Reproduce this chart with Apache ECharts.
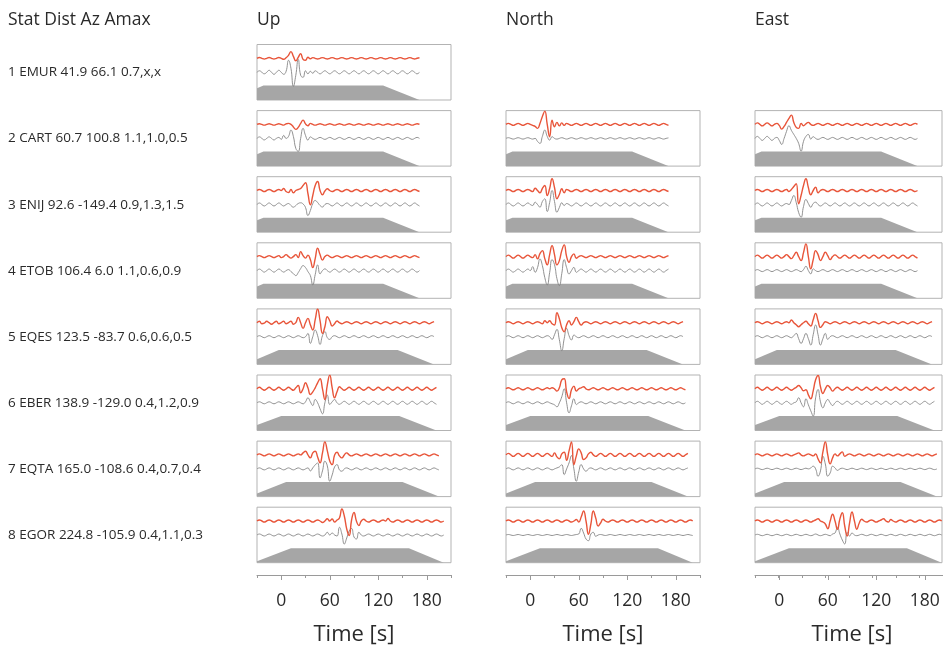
<!DOCTYPE html>
<html><head><meta charset="utf-8">
<script src="https://cdn.jsdelivr.net/npm/echarts@6/dist/echarts.min.js"></script>
<style>html,body{margin:0;padding:0;background:#fff}#c{width:943px;height:649px}</style>
</head><body><div id="c"></div><script>
// ---------- DATA ----------
const T0 = -30, DT = 3;               // trace sample start time and step (s)
const columns = ['Up', 'North', 'East'];
const header = 'Stat Dist Az Amax';
const stations = [
  '1 EMUR 41.9 66.1 0.7,x,x',
  '2 CART 60.7 100.8 1.1,1.0,0.5',
  '3 ENIJ 92.6 -149.4 0.9,1.3,1.5',
  '4 ETOB 106.4 6.0 1.1,0.6,0.9',
  '5 EQES 123.5 -83.7 0.6,0.6,0.5',
  '6 EBER 138.9 -129.0 0.4,1.2,0.9',
  '7 EQTA 165.0 -108.6 0.4,0.7,0.4',
  '8 EGOR 224.8 -105.9 0.4,1.1,0.3'
];
// taper window per station: [start, plateau start, plateau end, end] (s)
const taper = [
  [-66, -22, 126, 171], [-66, -22, 126, 171], [-66, -22, 126, 171], [-66, -22, 126, 171],
  [-45, -3, 144, 189], [-48, 0, 146, 192], [-40, 6, 150, 195], [-35, 12, 158, 201]
];
const timeTicks = [0, 60, 120, 180];
const axisTitle = 'Time [s]';

// waveforms (amplitude, one value every 3 s from -30 s); red = synthetic, gray = observed
const upRed1 = [0,0.8,0,-0.8,0,0.8,0,-0.8,0,0.8, 0,-1,0.5,3,6.7,2,-2.5,1,4.5,-1, -2,1,-0.5,0.7,0,-0.7,0,0.7,0,-0.7, 0,0.7,0,-0.7,0,0.7,0,-0.7,0,0.7, 0,-0.7,0,0.7,0,-0.7,0,0.7,0,-0.7, 0,0.7,0,-0.7,0,0.7,0,-0.7,0,0.7, 0,-0.7,0,0.7,0,-0.7,0,0.5];
const upGray1 = [0,1.5,0,-1.5,0,2,0,-2,0,2, 0,-2,1,12,4,-14,-3,13,-3,-5, 1.5,-1.5,1,-1,1.5,0,-1.5,0,1.5,0, -1.5,0,1.5,0,-1.5,0,1.5,0,-1.5,0, 1.5,0,-1.5,0,1.5,0,-1.5,0,1.5,0, -1.5,0,1.5,0,-1.5,0,1.5,0,-1.5,0, 1.5,0,-1.5,0,1.5,0,-1.5,0];
const upRed2 = [0,0.7,0,-0.7,0,0.7,0,-0.7,0,0.7, 0,-0.7,0.5,1,0,-2.5,-5,-3,1,4.3, 0.5,-1.3,1,0,-0.7,0,0.7,0,-0.7,0, 0.7,0,-0.7,0,0.7,0,-0.7,0,0.7,0, -0.7,0,0.7,0,-0.7,0,0.7,0,-0.7,0, 0.7,0,-0.7,0,0.7,0,-0.7,0,0.7,0, -0.7,0,0.7,0,-0.7,0,0.7,0];
const upGray2 = [0,1.5,0,-1.5,0,1.5,0,-1.5,0,1, -1,3,0,2,8.3,2,-10,-13,0,10, 3,-1.7,1.5,0,-1,0,1,0,-1,0, 1,0,-1,0,1,0,-1,0,1,0, -1,0,1,0,-1,0,1,0,-1,0, 1,0,-1,0,1,0,-1,0,1,0, -1,0,1,0,-1,0,1,0];
const upRed3 = [0,1,0,-1,0,1,0,-1,0,1, 0,2,-1,-2,1,-2.3,0,1,2,5, 7.7,-3,-14.3,-5,5,9,0,-4.3,-0.5,1.7, 0,-1,0,1,0,-1,0,1,0,-1, 0,1,0,-1,0,1,0,-1,0,1, 0,-1,0,1,0,-1,0,1,0,-1, 0,1,0,-1,0,1,0,-1];
const upGray3 = [0,1.5,0,-1.5,0,1.5,0,-1.5,0,1.5, 0,-1.5,0,1,-1,-2.7,-1,1,1.7,0.5, -3,-11,-6,1,4,2,-1,-2.5,0,1, 0,-1.5,0,1.5,0,-1.5,0,1.5,0,-1.5, 0,1.5,0,-1.5,0,1.5,0,-1.5,0,1.5, 0,-1.5,0,1.5,0,-1.5,0,1.5,0,-1.5, 0,1.5,0,-1.5,0,1.5,0,-1.5];
const upRed4 = [0,1,0,-1,0,1,0,-1,0,1, -1,0,2,0,-1.5,0,2,-1,5,1, -1.5,1.5,-3,-11,-2,8.5,2,-3.5,0,1.5, 0,-1,0,1,0,-1,0,1,0,-1, 0,1,0,-1,0,1,0,-1,0,1, 0,-1,0,1,0,-1,0,1,0,-1, 0,1,0,-1,0,1,0,-1];
const upGray4 = [0,1.5,0,-1.5,0,1.5,0,-1.5,0,1.5, 0,-1.5,0,1,-1,-3,-5,-2,2,5, 3,-1,-5,-14.3,-4,5.7,-3.3,0,1.7,0, -1.5,0,1.5,0,-1.5,0,1.5,0,-1.5,0, 1.5,0,-1.5,0,1.5,0,-1.5,0,1.5,0, -1.5,0,1.5,0,-1.5,0,1.5,0,-1.5,0, 1.5,0,-1.5,0,1.5,0,-1.5,0];
const upRed5 = [0,1.5,-1,-0.5,1.5,0,-1.5,0,1.5,-1, 0,1.5,-1,0,1.5,-1.5,0,5.3,0,-5.7, 0,4.3,-2,-7.3,3,13.7,2,-10.7,-4,6, 2,-3.3,-1,1.7,0,-1,0,1,0,-1, 0,1,0,-1,0,1,0,-1,0,1, 0,-1,0,1,0,-1,0,1,0,-1, 0,1,0,-1,0,1,0,-1,0,1, 0,-1,0,1];
const upGray5 = [0,1,0,-1,0,1,0,-1,0,1, 0,-1,0,1,0,-1,0,1,0,-1, 0,3.3,-6.7,0,6.7,1,-7.7,1,5,-1, -2.7,0,1,0,-1,0,1,0,-1,0, 1,0,-1,0,1,0,-1,0,1,0, -1,0,1,0,-1,0,1,0,-1,0, 1,0,-1,0,1,0,-1,0,1,0, -1,0,1,0];
const upRed6 = [0,1.5,0,-1.5,0,1.5,0,-1.5,0,1.5, 0,-1.5,0,1.5,0,-1.5,1,3.3,-4,0, 6,1,-5.7,-3,1,6,10,0,-10.7,4, 13.7,1,-9,-3,2,0,-1.5,0,1.5,0, -1.5,0,1.5,0,-1.5,0,1.5,0,-1.5,0, 1.5,0,-1.5,0,1.5,0,-1.5,0,1.5,0, -1.5,0,1.5,0,-1.5,0,1.5,0,-1.5,0, 1.5,0,-1.5,0,1.5];
const upGray6 = [0,1,0,-1,0,1,0,-1,0,1, 0,-1,0,1,0,-1,0,1,0,-1, 1,5,1,-2.7,3.3,0,-6,-11,0,7.7, -1.7,1,3.3,0,-1.5,0,1.5,0,-1.5,0, 1.5,0,-1.5,0,1.5,0,-1.5,0,1.5,0, -1.5,0,1.5,0,-1.5,0,1.5,0,-1.5,0, 1.5,0,-1.5,0,1.5,0,-1.5,0,1.5,0, -1.5,0,1.5,0,-1.5];
const upRed7 = [0,1,0,-1,0,1,0,-1,0,1, 0,-1,0,1,0,-1,0,1,0,2, 3.7,0,-3,2,3.7,-2,-8,2,13,4, -6,-9.7,0,2.7,-1,-3,0,2,0,-1, 0,1,0,-1,0,1,0,-1,0,1, 0,-1,0,1,0,-1,0,1,0,-1, 0,1,0,-1,0,1,0,-1,0,1, 0,-1,0,1,0,-1];
const upGray7 = [0,1,0,-1,0,1,0,-1,0,1, 0,-1,0,1,0,-1,0,1,0,-1, 0,1,-2,1,4,6,-9,-2,7.7,3, -12.3,-6,2,4.3,-1,-2.3,0,1,0,-1, 0,1,0,-1,0,1,0,-1,0,1, 0,-1,0,1,0,-1,0,1,0,-1, 0,1,0,-1,0,1,0,-1,0,1, 0,-1,0,1,0,-1];
const upRed8 = [0,1,0,-1,0,1,0,-1,0,1, 0,-1,0,1,0,-1,0,1,0,-1, 0,1,0,-1,0,1,0,-1.5,0,2.3, 0,2,-1,1,3,12,5,-8,-14.5,1, 8.5,0,-4.5,0,1.7,0,-1,0,1,0, -1,0,1,0,2.5,0,-1,0,1,0, -1,0,1,0,-1,0,1,0,-1,0, 1,0,-1,0,1,0,-1,0];
const upGray8 = [0,1,0,-1,0,1,0,-1,0,1, 0,-1,0,1,0,-1,0,1,0,-1, 0,1,0,-1,0,1,0,-1,0,2.7, 0,2,0,-1,7.7,1,-9,-3,4,6.5, -2,-4,2.7,0,-1,0,1,0,-1,0, 1,0,-1,0,1,0,-1,0,1,0, -1,0,1,0,-1,0,1,0,-1,0, 1,0,-1,0,1,0,-1,0];

const northRed2 = [0,1,0,-1,0,1,0,-1,0,1, 0,-1,-2,-4,1,8,13.3,0,-12.3,4.3, -2.3,2,-1.5,1.5,-1,1,0,-1,0,1, 0,-1,0,1,0,-1,0,1,0,-1, 0,1,0,-1,0,1,0,-1,0,1, 0,-1,0,1,0,-1,0,1,0,-1, 0,1,0,-1,0,1,0,-1];
const northGray2 = [0,0.7,0,-0.7,0,0.7,0,-0.7,0,0.7, 0,-0.7,0,-3,-5,2,8.3,2,-1.7,1.7, 0,-0.7,0,0.7,0,-0.7,0,0.7,0,-0.7, 0,0.7,0,-0.7,0,0.7,0,-0.7,0,0.7, 0,-0.7,0,0.7,0,-0.7,0,0.7,0,-0.7, 0,0.7,0,-0.7,0,0.7,0,-0.7,0,0.7, 0,-0.7,0,0.7,0,-0.7,0,0.5];
const northRed3 = [0,1,0,-1,0,1,0,-1,0,1, 0,-1,2.3,0,-2.3,2,5,-5,2,11.7, 3,-8.3,-4,1.7,-2.3,1,0,-1,0,1, 0,-1,0,1,0,-1,0,1,0,-1, 0,1,0,-1,0,1,0,-1,0,1, 0,-1,0,1,0,-1,0,1,0,-1, 0,1,0,-1,0,1,0,-1];
const northGray3 = [0,1.5,0,-1.5,0,1.5,0,-1.5,0,1.5, 0,-1,2.3,0,-2.7,3,5.7,-7,2,14, 3,-7.7,-3,1.7,-1,1,0,-1.5,0,1.5, 0,-1.5,0,1.5,0,-1.5,0,1.5,0,-1.5, 0,1.5,0,-1.5,0,1.5,0,-1.5,0,1.5, 0,-1.5,0,1.5,0,-1.5,0,1.5,0,-1.5, 0,1.5,0,-1.5,0,1.5,0,-1.5];
const northRed4 = [0,1.5,0,-1.5,0,1.5,0,-1.5,0,1.5, 0,-1,2,-2.3,3,6,-2,-8.3,2,11, 2,-8.3,-4,6,11.7,0,-5.7,0,2.7,-1.7, 0,1,0,-1,0,1,0,-1,0,1, 0,-1,0,1,0,-1,0,1,0,-1, 0,1,0,-1,0,1,0,-1,0,1, 0,-1,0,1,0,-1,0,1];
const northGray4 = [0,1.5,0,-1.5,0,1.5,0,-1.5,0,1.5, 0,4,-1.7,3,11.7,5,-7,-14.3,-2,11, 6,-8,-15,-3,11,3,-3.3,0,3.3,-1.7, 0,1.5,0,-1.5,0,1.5,0,-1.5,0,1.5, 0,-1.5,0,1.5,0,-1.5,0,1.5,0,-1.5, 0,1.5,0,-1.5,0,1.5,0,-1.5,0,1.5, 0,-1.5,0,1.5,0,-1.5,0,1.5];
const northRed5 = [0,1,0,-1,0,1,0,-1,0,1, 0,-1,0,1,0,-1,2,0,2,-1, -2.3,10,4,-5,-9,-2,2,-2.3,1,5.3, 1,-2.3,0,1,0,-1,0,1,0,-1, 0,1,0,-1,0,1,0,-1,0,1, 0,-1,0,1,0,-1,0,1,0,-1, 0,1,0,-1,0,1,0,-1,0,1, 0,-1,0,1];
const northGray5 = [0,1,0,-1,0,1,0,-1,0,1, 0,-1,0,1,0,-1,0,1,0,-2.7, 2,7.3,-3,-14,-2,8.3,1,-3.3,1.7,0, -1,0,1,0,-1,0,1,0,-1,0, 1,0,-1,0,1,0,-1,0,1,0, -1,0,1,0,-1,0,1,0,-1,0, 1,0,-1,0,1,0,-1,0,1,0, -1,0,1,0];
const northRed6 = [0,1,0,-1,0,1,0,-1,0,1, 0,-1,0,1,0,-1,0,1,0,1, 0,-2.3,1,9,10,-3,-9.7,-1,2.7,-2.3, 0,1,2,0,-1,0,1,0,-1,0, 1,0,-1,0,1,0,-1,0,1,0, -1,0,1,0,-1,0,1,0,-1,0, 1,0,-1,0,1,0,-1,0,1,0, -1,0,1,0,-1];
const northGray6 = [0,1,0,-1,0,1,0,-1,0,1, 0,-1,0,1,0,-1,0,1,0,-1, -2,-4,0,6,14,0,-10,-3,4,-1.7, 0,1,0,-1,0,1,0,-1,0,1, 0,-1,0,1,0,-1,0,1,0,-1, 0,1,0,-1,0,1,0,-1,0,1, 0,-1,0,1,0,-1,0,1,0,-1, 0,1,0,-1,0];
const northRed7 = [0,1.5,0,-1.5,0,1.5,0,-1.5,0,1.5, 0,-1.5,0,1.5,0,-1.5,0,1.5,0,-1.5, 2,-2,-4,1,2.7,-5.3,4,13,-9.7,-1, 6,2,-4.7,-3,1,2.7,0,-1.5,0,1.5, 0,-1.5,0,1.5,0,-1.5,0,1.5,0,-1.5, 0,1.5,0,-1.5,0,1.5,0,-1.5,0,1.5, 0,-1.5,0,1.5,0,-1.5,0,1.5,0,-1.5, 0,1.5,0,-1.5,0,1.5];
const northGray7 = [0,1,0,-1,0,1,0,-1,0,1, 0,-1,0,1,0,-1,0,1,0,-1, 0,1,2,4.3,-5.7,0,6,13.3,0,-12.3, -3,4.3,0,-2.3,0,1,0,-1,0,1, 0,-1,0,1,0,-1,0,1,0,-1, 0,1,0,-1,0,1,0,-1,0,1, 0,-1,0,1,0,-1,0,1,0,-1, 0,1,0,-1,0,1];
const northRed8 = [0,1,0,-1,0,1,0,-1,0,1, 0,-1,0,1,0,-1,0,1,0,-1, 0,1,0,-1,0,1,0,-1,0,1.5, -1,4,10,0,-13.3,-3,10,3,-5,-2, 1.7,0,-1,0,1,0,-1,0,1,0, -1,0,1,0,-1,0,1,0,-1,0, 1,0,-1,0,1,0,-1,0,1,0, -1,0,1,0,-1,0,1,0];
const northGray8 = [0,0.5,0,-0.5,0,0.5,0,-0.5,0,0.5, 0,-0.5,0,0.5,0,-0.5,0,0.5,0,-0.5, 0,0.5,0,-0.5,0,0.5,0,-0.5,0,0.5, 1,6.7,2,-4,-5.7,1,2.7,-1.3,0,0.5, 0,-0.5,0,0.5,0,-0.5,0,0.5,0,-0.5, 0,0.5,0,-0.5,0,0.5,0,-0.5,0,0.5, 0,-0.5,0,0.5,0,-0.5,0,0.5,0,-0.5, 0,0.5,0,-0.5,0,0.5,0,-0.5];

const eastRed2 = [0,1.5,0,-1.5,0,1.5,0,-1.5,0,1, -1,-4.7,-2,2,6,9.3,2,-3,-4,1, -1.3,0.5,2,0,-1,0,1,0,-1,0, 1,0,-1,0,1,0,-1,0,1,0, -1,0,1,0,-1,0,1,0,-1,0, 1,0,-1,0,1,0,-1,0,1,0, -1,0,1,0,-1,0,1,0];
const eastGray2 = [0,2,0,-2,0,2,0,-2,0,1, -2,-6,0,7,12.7,8,4,0,-5,-12.7, -3,2,4,-0.7,1.7,0,-1,0,1,0, -1,0,1,0,-1,0,1,0,-1,0, 1,0,-1,0,1,0,-1,0,1,0, -1,0,1,0,-1,0,1,0,-1,0, 1,0,-1,0,1,0,-1,0];
const eastRed3 = [0,1,0,-1,0,1,0,-1,0,1, 0,-1,0,1,-1,1,4,6.7,-13.3,-5, 5,11.7,3,-4.3,0,3.3,-2.3,0,1,0, -1,0,1,0,-1,0,1,0,-1,0, 1,0,-1,0,1,0,-1,0,1,0, -1,0,1,0,-1,0,1,0,-1,0, 1,0,-1,0,1,0,-1,0];
const eastGray3 = [0,1.5,0,-1.5,0,1.5,0,-1.5,0,1.5, 0,-1.5,0,1,0,4,9,2,-8,-12.7, -2,5,1,-2.7,1,2.3,0,-1.5,0,1.5, 0,-1.5,0,1.5,0,-1.5,0,1.5,0,-1.5, 0,1.5,0,-1.5,0,1.5,0,-1.5,0,1.5, 0,-1.5,0,1.5,0,-1.5,0,1.5,0,-1.5, 0,1.5,0,-1.5,0,1.5,0,-1.5];
const eastRed4 = [0,1.5,0,-1.5,0,1.5,0,-1.5,0,1.5, 0,-1.5,0,2,0,-2,1,4.3,0,-4, 4,12.7,0,-12.3,-3,6,2,-4,0,4.3, 1,-3,0,1.7,0,-1.5,0,1.5,0,-1.5, 0,1.5,0,-1.5,0,1.5,0,-1.5,0,1.5, 0,-1.5,0,1.5,0,-1.5,0,1.5,0,-1.5, 0,1.5,0,-1.5,0,1.5,0,-1.5];
const eastGray4 = [0,1,0,-1,0,1,0,-1,0,1, 0,-1,0,1,0,-1,0,1,0,-1, 1,4.3,0,-3.3,1.7,0,-1,0,1,0, -1,0,1,0,-1,0,1,0,-1,0, 1,0,-1,0,1,0,-1,0,1,0, -1,0,1,0,-1,0,1,0,-1,0, 1,0,-1,0,1,0,-1,0];
const eastRed5 = [0,1,0,-1,0,1,0,-1,0,1, 0,-1,0,1,0,2.7,0,-2,-4,-2, 0,1.5,-1,-3.3,3,9.3,2,-4.7,-2,1, 0,-1,0,1,0,-1,0,1,0,-1, 0,1,0,-1,0,1,0,-1,0,1, 0,-1,0,1,0,-1,0,1,0,-1, 0,1,0,-1,0,1,0,-1,0,1, 0,-1,0,1];
const eastGray5 = [0,1,0,-1,0,1,0,-1,0,1, 0,-1,0,1,0,-1,1,3.3,-2,-6.7, -2,3.3,-2,-8.3,2,11.7,2,-8.3,-2,3.3, -2.7,0,1,0,-1,0,1,0,-1,0, 1,0,-1,0,1,0,-1,0,1,0, -1,0,1,0,-1,0,1,0,-1,0, 1,0,-1,0,1,0,-1,0,1,0, -1,0,1,0];
const eastRed6 = [0,1.5,0,-1.5,0,1.5,0,-1.5,0,1.5, 0,-1.5,0,1.5,0,-1.5,0,1.5,3.3,1, -2,-1,-6,-10,-2,9,13.3,2,-4.7,0, 3.3,1,-2.3,0,1.5,0,-1.5,0,1.5,0, -1.5,0,1.5,0,-1.5,0,1.5,0,-1.5,0, 1.5,0,-1.5,0,1.5,0,-1.5,0,1.5,0, -1.5,0,1.5,0,-1.5,0,1.5,0,-1.5,0, 1.5,0,-1.5,0,1.5];
const eastGray6 = [0,1.5,0,-1.5,0,1.5,0,-1.5,0,1.5, 0,-1.5,0,1.5,0,-1.5,0,1,5,0, -4,4,-2,-8,-13.3,5,13.3,1,-5,0, 3.3,0,-2.7,0,1.5,0,-1.5,0,1.5,0, -1.5,0,1.5,0,-1.5,0,1.5,0,-1.5,0, 1.5,0,-1.5,0,1.5,0,-1.5,0,1.5,0, -1.5,0,1.5,0,-1.5,0,1.5,0,-1.5,0, 1.5,0,-1.5,0,1.5];
const eastRed7 = [0,1,0,-1,0,1,0,-1,0,1, 0,-1,0,1,0,-1,0,1,2,0, -1,0,1,0,-1,1,-4,-8,3,13, 0,-9,-3,1,-1,1,3,-1.5,0,1, 0,-1,0,1,0,-1,0,1,0,-1, 0,1,0,-1,0,1,0,-1,0,1, 0,-1,0,1,0,-1,0,1,0,-1, 0,1,0,-1,0,1];
const eastGray7 = [0,0.7,0,-0.7,0,0.7,0,-0.7,0,0.7, 0,-0.7,0,0.7,0,-0.7,0,0.7,0,-0.7, 0,0.7,0,1,2.7,0,-7.3,-2,12.7,5, -7.3,-4,2.7,1,-1.5,0,0.7,0,-0.7,0, 0.7,0,-0.7,0,0.7,0,-0.7,0,0.7,0, -0.7,0,0.7,0,-0.7,0,0.7,0,-0.7,0, 0.7,0,-0.7,0,0.7,0,-0.7,0,0.7,0, -0.7,0,0.7,0,-0.7,0];
const eastRed8 = [0,1,0,-1,0,1,0,-1,0,1, 0,-1,0,1,0,-1,0,1,0,-1, 0,1,0,-1,0,1,2.3,0,-1,-3, -7.7,0,6.7,0,-8.3,2,8.3,-5,-15,-2, 9,0,-8.3,-2,1.7,0,-1,0,1,0, -1,0,1,2.3,0,-1,1.5,0,-1,0, 1,0,-1,0,1,0,-1,0,1,0, -1,0,1,0,-1,0,1,0];
const eastGray8 = [0,0.7,0,-0.7,0,0.7,0,-0.7,0,0.7, 0,-0.7,0,0.7,0,-0.7,0,0.7,0,-0.7, 0,0.7,0,-0.7,0,1,0,-0.7,0,0.7, 0,-0.7,1,2,7.7,1,-5,-9,2.7,-1, 2,0,-0.7,0,0.7,0,-0.7,0,0.7,0, -0.7,0,0.7,0,-0.7,0,0.7,0,-0.7,0, 0.7,0,-0.7,0,0.7,0,-0.7,0,0.7,0, -0.7,0,0.7,0,-0.7,0,0.7,0];

// per component, per station: [red, gray] (null = no data)
const traces = [
  [[upRed1, upGray1], [upRed2, upGray2], [upRed3, upGray3], [upRed4, upGray4], [upRed5, upGray5], [upRed6, upGray6], [upRed7, upGray7], [upRed8, upGray8]],
  [null, [northRed2, northGray2], [northRed3, northGray3], [northRed4, northGray4], [northRed5, northGray5], [northRed6, northGray6], [northRed7, northGray7], [northRed8, northGray8]],
  [null, [eastRed2, eastGray2], [eastRed3, eastGray3], [eastRed4, eastGray4], [eastRed5, eastGray5], [eastRed6, eastGray6], [eastRed7, eastGray7], [eastRed8, eastGray8]]
];

// ---------- LAYOUT / STYLE ----------
const FONT = '"Open Sans", "Noto Sans", sans-serif';
const TXT = '#2a2a2a';
const colLeft = [257, 506, 755];
const PX_PER_S = 194 / 240;
const colWidth = [194, 194, 187];
const colMax = colWidth.map(w => -30 + w / PX_PER_S);
const rowTop = r => 44.5 + 66.1 * r;
const PH = 55.5, RED_BASE = 41.7, GRAY_BASE = 27.7, TAPER_H = 14.5;

const grid = [], xAxis = [], yAxis = [], series = [], graphic = [];
let gi = 0;
for (let c = 0; c < 3; c++) {
  for (let r = 0; r < 8; r++) {
    const tr = traces[c][r];
    if (!tr) continue;
    grid.push({ left: colLeft[c], top: rowTop(r), width: colWidth[c], height: PH, show: true,
      borderColor: '#b3b3b3', borderWidth: 1, backgroundColor: 'transparent' });
    xAxis.push({ gridIndex: gi, type: 'value', min: -30, max: colMax[c], show: false });
    yAxis.push({ gridIndex: gi, type: 'value', min: 0, max: PH, show: false });
    const w = taper[r];
    series.push({ type: 'line', xAxisIndex: gi, yAxisIndex: gi, silent: true, symbol: 'none',
      data: [[w[0], 0], [w[1], TAPER_H], [w[2], TAPER_H], [w[3], 0]],
      lineStyle: { width: 0 }, areaStyle: { color: '#a6a6a6', opacity: 1 }, z: 1 });
    series.push({ type: 'line', xAxisIndex: gi, yAxisIndex: gi, silent: true, symbol: 'none',
      smooth: 0.5, data: tr[1].map((v, i) => [T0 + i * DT, GRAY_BASE + v]),
      lineStyle: { color: '#858585', width: 0.9 }, z: 2 });
    series.push({ type: 'line', xAxisIndex: gi, yAxisIndex: gi, silent: true, symbol: 'none',
      smooth: 0.5, data: tr[0].map((v, i) => [T0 + i * DT, RED_BASE + v]),
      lineStyle: { color: '#e8553a', width: 1.4 }, z: 3 });
    gi++;
  }
}
// bottom time axes: minor ticks (every 30 s) + labelled major ticks
for (let c = 0; c < 3; c++) {
  grid.push({ left: colLeft[c], top: 574, width: 194, height: 1, show: false });
  xAxis.push({ gridIndex: gi, type: 'value', min: -30, max: 210, interval: 30, position: 'bottom',
    axisLine: { show: true, lineStyle: { color: '#9a9a9a', width: 1 } },
    axisTick: { show: true, length: 3, lineStyle: { color: '#9a9a9a' } },
    axisLabel: { show: false }, splitLine: { show: false } });
  yAxis.push({ gridIndex: gi, type: 'value', show: false });
  gi++;
  grid.push({ left: colLeft[c] + 30 * PX_PER_S, top: 574, width: 180 * PX_PER_S, height: 1, show: false });
  xAxis.push({ gridIndex: gi, type: 'value', min: timeTicks[0], max: timeTicks[timeTicks.length - 1],
    interval: timeTicks[1] - timeTicks[0], position: 'bottom',
    axisLine: { show: false }, axisTick: { show: true, length: 5, lineStyle: { color: '#9a9a9a' } },
    axisLabel: { show: true, margin: 17, fontSize: 17.5, color: TXT, fontFamily: FONT },
    splitLine: { show: false },
    name: axisTitle, nameLocation: 'middle', nameGap: 49,
    nameTextStyle: { fontSize: 22, color: TXT, fontFamily: FONT } });
  yAxis.push({ gridIndex: gi, type: 'value', show: false });
  gi++;
}
// texts
function txt(x, y, s, size) {
  graphic.push({ type: 'text', x: x, y: y, silent: true,
    style: { text: s, fill: TXT, font: size + 'px ' + FONT, textFont: size + 'px ' + FONT,
      align: 'left', verticalAlign: 'middle', textAlign: 'left', textVerticalAlign: 'middle' } });
}
txt(8, 20, header, 17.5);
columns.forEach((n, c) => txt(colLeft[c], 20, n, 17.5));
stations.forEach((s, r) => txt(8, rowTop(r) + 28, s, 13.5));

const chart = echarts.init(document.getElementById('c'), null, { renderer: 'canvas' });
chart.setOption({ animation: false, backgroundColor: '#fff', grid, xAxis, yAxis, series, graphic });
</script></body></html>
